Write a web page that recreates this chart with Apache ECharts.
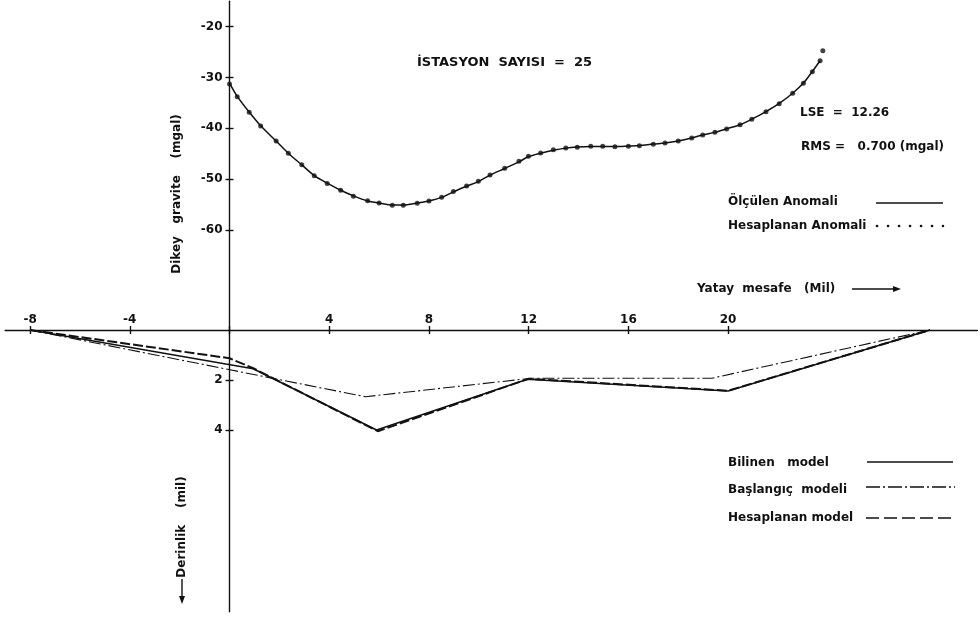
<!DOCTYPE html>
<html>
<head>
<meta charset="utf-8">
<script src="https://cdn.jsdelivr.net/npm/echarts@6/dist/echarts.min.js"></script>
<style>
html,body{margin:0;padding:0;background:#fff;}
#chart{width:980px;height:617px;}
</style>
</head>
<body>
<div id="chart"></div>
<script>
// ---- Data ----
// Horizontal distance (mil) of the anomaly stations
const anomalyX = [0, 0.31, 0.79, 1.25, 1.87, 2.36, 2.9, 3.4, 3.92, 4.46, 4.97, 5.54, 6.0, 6.53, 6.97, 7.53, 8.0, 8.51, 8.98, 9.51, 9.98, 10.45, 11.04, 11.61, 11.99, 12.48, 12.99, 13.49, 13.95, 14.49, 14.97, 15.46, 16.0, 16.44, 17.0, 17.47, 18.0, 18.54, 18.98, 19.47, 19.94, 20.48, 20.95, 21.52, 22.05, 22.59, 23.02, 23.38, 23.69];
// Ölçülen Anomali (mgal) – solid curve
const measured = [-31.1, -33.7, -36.8, -39.5, -42.5, -44.9, -47.2, -49.3, -50.8, -52.2, -53.3, -54.3, -54.7, -55.1, -55.1, -54.7, -54.3, -53.6, -52.5, -51.4, -50.5, -49.2, -47.9, -46.6, -45.6, -44.9, -44.3, -43.9, -43.7, -43.6, -43.6, -43.6, -43.5, -43.4, -43.1, -42.9, -42.5, -41.9, -41.3, -40.8, -40.1, -39.3, -38.2, -36.7, -35.1, -33.1, -31.1, -28.8, -26.7];
// Hesaplanan Anomali (mgal) – dots
const calculatedX = anomalyX.concat([23.8]);
const calculated = [-31.27, -33.77, -36.84, -39.54, -42.49, -44.91, -47.17, -49.35, -50.85, -52.19, -53.35, -54.27, -54.68, -55.14, -55.14, -54.74, -54.29, -53.56, -52.46, -51.34, -50.42, -49.18, -47.86, -46.48, -45.5, -44.85, -44.2, -43.86, -43.73, -43.53, -43.53, -43.61, -43.53, -43.41, -43.12, -42.88, -42.49, -41.9, -41.31, -40.78, -40.13, -39.28, -38.22, -36.72, -35.15, -33.1, -31.14, -28.85, -26.69, -24.72];

// Models: depth (mil) vs horizontal distance (mil)
const bilinenX = [-8, 0.95, 5.9, 11.95, 20, 28.1];
const bilinenDepth = [0, 1.55, 4.0, 1.97, 2.44, 0];
const baslangicX = [-8, 5.45, 12.1, 19.35, 28.1];
const baslangicDepth = [0, 2.67, 1.93, 1.93, 0];
const hesaplananX = [-8, 0, 0.95, 5.95, 12, 20, 28.1];
const hesaplananDepth = [0, 1.13, 1.53, 4.05, 1.95, 2.43, 0];

// Tick labels
const xTicks = [-8, -4, 0, 4, 8, 12, 16, 20];
const xLabels = [-8, -4, 4, 8, 12, 16, 20];
const gravityTicks = [-60, -50, -40, -30, -20];
const depthTicks = [2, 4];

const pairs = (xs, ys) => xs.map((x, i) => [x, ys[i]]);

const INK = '#111';
const FONT = 'DejaVu Sans';
const lbl = {color: INK, fontFamily: FONT, fontWeight: 'bold', fontSize: 12};

const GRID_LEFT = 5.13;
const X_MIN = -9, X_MAX = 30;
const GRID_W = 980 - GRID_LEFT - 2.6;
const Y_AXIS_OFFSET = -(0 - X_MIN) / (X_MAX - X_MIN) * GRID_W; // puts the vertical axis at x = 0

const chart = echarts.init(document.getElementById('chart'), null, {renderer: 'canvas'});

function txt(text, x, y, opts) {
  opts = opts || {};
  return {
    type: 'text', x: x, y: y, rotation: opts.rotation || 0, silent: true,
    style: {
      text: text, fill: INK,
      font: (opts.weight || 'bold') + ' ' + (opts.size || 12) + 'px "' + FONT + '"',
      align: opts.align || 'left', verticalAlign: 'middle'
    }
  };
}
function seg(x1, y1, x2, y2, opts) {
  opts = opts || {};
  return {
    type: 'line', silent: true,
    shape: {x1: x1, y1: y1, x2: x2, y2: y2},
    style: {stroke: INK, lineWidth: opts.width || 1.3, lineDash: opts.dash || null, lineCap: opts.cap || 'butt'}
  };
}
function yAxisDef(grid, min, max, ticks, inside, inverse) {
  return {
    type: 'value', gridIndex: grid, min: min, max: max, inverse: !!inverse, position: 'left',
    offset: Y_AXIS_OFFSET,
    axisLine: {show: !inside, onZero: false, lineStyle: {color: INK, width: 1.4}},
    axisTick: {show: true, inside: inside, length: 4, customValues: ticks, lineStyle: {color: INK, width: 1.4}},
    axisLabel: inside ? {show: false} : Object.assign({show: true, margin: 7, customValues: ticks}, lbl),
    splitLine: {show: false}
  };
}

const option = {
  backgroundColor: '#fff',
  animation: false,
  grid: [
    {left: GRID_LEFT, right: 2.6, top: 1.3, height: 328.7, containLabel: false, outerBoundsMode: 'none'},
    {left: GRID_LEFT, right: 2.6, top: 330, height: 281.7, containLabel: false, outerBoundsMode: 'none'}
  ],
  xAxis: [
    {
      type: 'value', gridIndex: 0, min: X_MIN, max: X_MAX, position: 'bottom',
      axisLine: {show: true, onZero: false, lineStyle: {color: INK, width: 1.4}},
      axisTick: {show: true, inside: true, length: 4, customValues: xTicks, lineStyle: {color: INK, width: 1.4}},
      axisLabel: Object.assign({show: true, inside: true, margin: 4, customValues: xLabels}, lbl),
      splitLine: {show: false}
    },
    {
      type: 'value', gridIndex: 1, min: X_MIN, max: X_MAX, position: 'top',
      axisLine: {show: false, onZero: false},
      axisTick: {show: true, inside: true, length: 4, customValues: xTicks, lineStyle: {color: INK, width: 1.4}},
      axisLabel: {show: false},
      splitLine: {show: false}
    }
  ],
  yAxis: [
    yAxisDef(0, -79.7, -15, gravityTicks, false, false),
    yAxisDef(1, 0, 11.27, depthTicks, false, true),
    yAxisDef(0, -79.7, -15, gravityTicks, true, false),
    yAxisDef(1, 0, 11.27, depthTicks, true, true)
  ],
  series: [
    {
      name: 'Ölçülen Anomali', type: 'line', xAxisIndex: 0, yAxisIndex: 0,
      data: pairs(anomalyX, measured), showSymbol: false, smooth: 0.3,
      lineStyle: {color: INK, width: 1.5}
    },
    {
      name: 'Hesaplanan Anomali', type: 'scatter', xAxisIndex: 0, yAxisIndex: 0,
      data: pairs(calculatedX, calculated), symbol: 'circle', symbolSize: 5,
      itemStyle: {color: INK}
    },
    {
      name: 'Bilinen model', type: 'line', xAxisIndex: 1, yAxisIndex: 1,
      data: pairs(bilinenX, bilinenDepth), showSymbol: false,
      lineStyle: {color: INK, width: 1.6}
    },
    {
      name: 'Başlangıç modeli', type: 'line', xAxisIndex: 1, yAxisIndex: 1,
      data: pairs(baslangicX, baslangicDepth), showSymbol: false,
      lineStyle: {color: INK, width: 1.1, type: [12, 3, 2, 3]}
    },
    {
      name: 'Hesaplanan model', type: 'line', xAxisIndex: 1, yAxisIndex: 1,
      data: pairs(hesaplananX, hesaplananDepth), showSymbol: false,
      lineStyle: {color: INK, width: 2, type: [10, 3]}
    }
  ],
  graphic: [
    txt('İSTASYON  SAYISI  =  25', 417, 63, {size: 13}),
    txt('LSE  =  12.26', 800, 113),
    txt('RMS =   0.700 (mgal)', 801, 147),
    txt('Ölçülen Anomali', 728, 202),
    seg(876, 203, 943, 203, {width: 1.3}),
    txt('Hesaplanan Anomali', 728, 226),
    seg(877, 226, 943, 226, {width: 2.6, dash: [0.1, 10.9], cap: 'round'}),
    txt('Bilinen   model', 728, 463),
    seg(867, 462, 953, 462, {width: 1.3}),
    txt('Başlangıç  modeli', 728, 490),
    seg(866, 487, 955, 487, {width: 1.3, dash: [14, 3, 2, 3]}),
    txt('Hesaplanan model', 728, 518),
    seg(866, 518, 953, 518, {width: 1.5, dash: [13, 5]}),
    txt('Yatay  mesafe   (Mil)', 697, 289),
    seg(852, 289, 895, 289, {width: 1.4}),
    {type: 'polygon', silent: true, shape: {points: [[893, 286], [901, 289], [893, 292]]}, style: {fill: INK}},
    txt('Dikey   gravite    (mgal)', 177, 194, {rotation: Math.PI / 2, align: 'center'}),
    txt('Derinlik    (mil)', 182, 527, {rotation: Math.PI / 2, align: 'center'}),
    seg(182, 579, 182, 598, {width: 1.4}),
    {type: 'polygon', silent: true, shape: {points: [[179, 596], [182, 604], [185, 596]]}, style: {fill: INK}}
  ]
};
chart.setOption(option);
</script>
</body>
</html>
